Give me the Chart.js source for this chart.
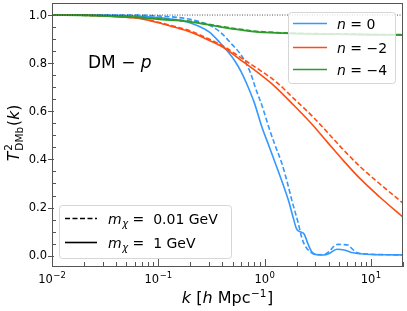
<!DOCTYPE html>
<html>
<head>
<meta charset="utf-8">
<script src="https://cdn.jsdelivr.net/npm/chart.js@4.4.1/dist/chart.umd.min.js"></script>
<style>
  html, body { margin: 0; padding: 0; background: #fff; }
  #wrap { width: 407px; height: 311px; }
</style>
</head>
<body>
<div id="wrap"><canvas id="chart" width="407" height="311"></canvas></div>
<script>
// k [h/Mpc] and T^2_DMb(k)
// n = 0
const kN0Heavy = [0.01, 0.03, 0.05, 0.1, 0.15, 0.2, 0.3, 0.38, 0.45, 0.53, 0.6, 0.7, 0.8, 0.94, 1.1, 1.26, 1.45, 1.67, 1.85, 2.0, 2.15, 2.35, 2.55, 2.78, 3.1, 3.6, 4.0, 4.8, 5.6, 6.8, 8, 10, 14, 20];
const tN0Heavy = [1, 1, 0.998, 0.99, 0.98, 0.967, 0.93, 0.885, 0.848, 0.806, 0.765, 0.70, 0.635, 0.536, 0.455, 0.384, 0.31, 0.231, 0.16, 0.11, 0.1, 0.09, 0.05, 0.015, 0.004, 0.003, 0.008, 0.027, 0.024, 0.012, 0.008, 0.005, 0.004, 0.003];
const kN0Light = [0.01, 0.05, 0.1, 0.2, 0.3, 0.38, 0.5, 0.58, 0.656, 0.74, 0.815, 0.95, 1.09, 1.25, 1.45, 1.62, 1.8, 2.07, 2.25, 2.45, 2.7, 3.0, 3.6, 4.1, 4.5, 4.9, 5.5, 6.1, 6.6, 7.2, 8.5, 10, 14, 20];
const tN0Light = [1, 1, 0.996, 0.982, 0.958, 0.93, 0.875, 0.843, 0.806, 0.757, 0.70, 0.62, 0.536, 0.46, 0.384, 0.31, 0.231, 0.135, 0.07, 0.035, 0.015, 0.005, 0.004, 0.02, 0.04, 0.047, 0.046, 0.044, 0.03, 0.015, 0.008, 0.006, 0.004, 0.003];
// n = -2
const kN2Heavy = [0.01, 0.02, 0.04, 0.07, 0.1, 0.14, 0.2, 0.3, 0.42, 0.6, 0.84, 1.2, 1.87, 2.8, 3.85, 5.5, 7.9, 12, 20];
const tN2Heavy = [1, 0.999, 0.993, 0.984, 0.968, 0.95, 0.93, 0.895, 0.862, 0.812, 0.765, 0.71, 0.626, 0.545, 0.474, 0.395, 0.32, 0.245, 0.16];
const kN2Light = [0.01, 0.02, 0.04, 0.07, 0.1, 0.14, 0.2, 0.3, 0.42, 0.6, 0.9, 1.3, 1.87, 2.8, 3.85, 5.5, 7.9, 12, 20];
const tN2Light = [1, 0.999, 0.994, 0.985, 0.97, 0.953, 0.934, 0.9, 0.868, 0.822, 0.771, 0.72, 0.654, 0.58, 0.515, 0.44, 0.37, 0.3, 0.218];
// n = -4
const kN4Heavy = [0.01, 0.02, 0.04, 0.07, 0.12, 0.2, 0.38, 0.6, 0.84, 1.3, 2, 3.5, 6, 10, 20];
const tN4Heavy = [1, 0.999, 0.995, 0.989, 0.98, 0.972, 0.951, 0.938, 0.93, 0.926, 0.923, 0.921, 0.92, 0.918, 0.917];
const kN4Light = [0.01, 0.02, 0.04, 0.07, 0.12, 0.2, 0.38, 0.6, 0.84, 1.3, 2, 3.5, 6, 10, 20];
const tN4Light = [1, 0.999, 0.996, 0.99, 0.982, 0.974, 0.953, 0.94, 0.932, 0.927, 0.924, 0.922, 0.921, 0.919, 0.918];
// T^2 = 1 reference
const kRef = [0.01, 20];
const tRef = [1, 1];

const yTicks = [0, 0.2, 0.4, 0.6, 0.8, 1.0];
const yTickLabels = ['0.0', '0.2', '0.4', '0.6', '0.8', '1.0'];
const xTickExps = [-2, -1, 0, 1];

const BLUE = '#3399ff', RED = '#ff4d12', GREEN = '#2e9b2e';
const FONT = "'DejaVu Sans', sans-serif";

const pts = (ks, ts) => ks.map((k, i) => ({ x: k, y: ts[i] }));

function line(label, ks, ts, color, dash, width) {
    return {
        label,
        data: pts(ks, ts),
        borderColor: color,
        borderWidth: width || 1.6,
        borderDash: dash || [],
        pointRadius: 0,
        fill: false,
        cubicInterpolationMode: 'monotone',
    };
}

// small helper to draw mixed italic / super / subscript text
function richText(ctx, parts, x, y, align) {
    const items = [];
    let cx = 0, prevStart = 0, prevW = 0;
    for (const p of parts) {
        ctx.font = p.font;
        const w = ctx.measureText(p.text).width;
        if (p.stack) {
            items.push({ p, x: prevStart });
            cx += Math.max(0, w - prevW);
            prevW = Math.max(prevW, w);
        } else {
            const sx = cx + (p.dx || 0);
            items.push({ p, x: sx });
            prevStart = sx; prevW = w;
            cx = sx + w;
        }
    }
    const x0 = align === 'center' ? x - cx / 2 : align === 'right' ? x - cx : x;
    ctx.textAlign = 'left';
    ctx.textBaseline = 'alphabetic';
    ctx.fillStyle = '#000';
    for (const it of items) {
        ctx.font = it.p.font;
        ctx.fillText(it.p.text, x0 + it.x, y + (it.p.dy || 0));
    }
}

const DASH = [5, 2.5];

const decorPlugin = {
    id: 'decor',
    beforeDraw(chart) {
        const ctx = chart.ctx;
        ctx.save();
        ctx.fillStyle = '#fff';
        ctx.fillRect(0, 0, chart.width, chart.height);
        ctx.restore();
    },
    afterDatasetsDraw(chart) {
        const { ctx, chartArea: a } = chart;
        const xs = chart.scales.x, ys = chart.scales.y;
        ctx.save();

        // frame
        ctx.strokeStyle = '#555';
        ctx.lineWidth = 1;
        ctx.strokeRect(a.left + 0.5, a.top + 0.5, a.right - a.left - 1, a.bottom - a.top - 1);

        // y ticks
        ctx.beginPath();
        for (let v = 0; v <= 1.0001; v += 0.05) {
            const y = Math.round(ys.getPixelForValue(v)) + 0.5;
            const major = Math.abs(v * 5 - Math.round(v * 5)) < 1e-6;
            if (major) { ctx.moveTo(a.left - 4, y); ctx.lineTo(a.left + 2, y); }
            else { ctx.moveTo(a.left, y); ctx.lineTo(a.left + 4, y); }
        }
        // x ticks
        for (let d = -2; d <= 1; d++) {
            for (let m = 1; m <= 9; m++) {
                const k = m * Math.pow(10, d);
                if (k > 20) continue;
                const x = Math.round(xs.getPixelForValue(k)) + 0.5;
                const len = m === 1 ? 8 : 5;
                ctx.moveTo(x, a.bottom); ctx.lineTo(x, a.bottom - len);
            }
        }
        ctx.stroke();

        // y tick labels
        ctx.fillStyle = '#000';
        ctx.font = '11.5px ' + FONT;
        ctx.textAlign = 'right';
        ctx.textBaseline = 'middle';
        yTicks.forEach((v, i) => ctx.fillText(yTickLabels[i], a.left - 5, ys.getPixelForValue(v) + 0.5));

        // x tick labels 10^n
        xTickExps.forEach(e => {
            const x = xs.getPixelForValue(Math.pow(10, e));
            richText(ctx, [
                { text: '10', font: '11.5px ' + FONT },
                { text: (e < 0 ? '\u2212' : '') + Math.abs(e), font: '8.5px ' + FONT, dy: -5, dx: 0.5 },
            ], x, 283, 'center');
        });

        // axis titles
        richText(ctx, [
            { text: 'k', font: 'italic 16px ' + FONT },
            { text: ' [', font: '16px ' + FONT },
            { text: 'h', font: 'italic 16px ' + FONT },
            { text: ' Mpc', font: '16px ' + FONT },
            { text: '\u22121', font: '10.5px ' + FONT, dy: -6.5, dx: 0.5 },
            { text: ']', font: '16px ' + FONT, dx: 0.5 },
        ], (a.left + a.right) / 2, 303, 'center');

        ctx.save();
        ctx.translate(19, 133);
        ctx.rotate(-Math.PI / 2);
        richText(ctx, [
            { text: 'T', font: 'italic 15.5px ' + FONT },
            { text: '2', font: '10.5px ' + FONT, dy: -7, dx: 1 },
            { text: 'DMb', font: '10.5px ' + FONT, dy: 3.5, stack: true },
            { text: '(', font: '15.5px ' + FONT, dx: 1 },
            { text: 'k', font: 'italic 15.5px ' + FONT },
            { text: ')', font: '15.5px ' + FONT },
        ], 0, 0, 'center');
        ctx.restore();

        // panel text
        richText(ctx, [
            { text: 'DM \u2212 ', font: '17px ' + FONT },
            { text: 'p', font: 'italic 17px ' + FONT },
        ], 88, 68, 'left');

        // legends
        const box = (x, y, w, h) => {
            ctx.beginPath();
            ctx.roundRect(x + 0.5, y + 0.5, w, h, 3);
            ctx.fillStyle = 'rgba(255,255,255,0.8)';
            ctx.fill();
            ctx.strokeStyle = '#d6d6d6';
            ctx.lineWidth = 1;
            ctx.stroke();
        };
        const sample = (x1, x2, y, color, dashed) => {
            ctx.beginPath();
            ctx.strokeStyle = color;
            ctx.lineWidth = 1.6;
            ctx.setLineDash(dashed ? DASH : []);
            ctx.moveTo(x1, y); ctx.lineTo(x2, y);
            ctx.stroke();
            ctx.setLineDash([]);
        };

        box(288, 12, 107, 71);
        [['0', BLUE, 23.5], ['\u22122', RED, 47.5], ['\u22124', GREEN, 69.5]].forEach(([n, c, y]) => {
            sample(293, 327, y, c, false);
            richText(ctx, [
                { text: 'n', font: 'italic 14px ' + FONT },
                { text: ' = ' + n, font: '14px ' + FONT },
            ], 337, y + 5, 'left');
        });

        box(59, 205, 172, 53);
        [['0.01 GeV', true, 218.5], ['1 GeV', false, 242.5]].forEach(([m, dashed, y]) => {
            sample(65, 97, y, '#000', dashed);
            richText(ctx, [
                { text: 'm', font: 'italic 14px ' + FONT },
                { text: '\u03c7', font: 'italic 10px ' + FONT, dy: 3, dx: 0.5 },
                { text: ' =  ' + m, font: '14px ' + FONT },
            ], 108, y + 5, 'left');
        });

        ctx.restore();
    },
};

new Chart(document.getElementById('chart'), {
    type: 'line',
    data: {
        datasets: [
            line('ref', kRef, tRef, '#222', [1, 1.5], 0.8),
            line('n=-4 light', kN4Light, tN4Light, GREEN, DASH, 1.8),
            line('n=-4 heavy', kN4Heavy, tN4Heavy, GREEN, null, 1.8),
            line('n=-2 light', kN2Light, tN2Light, RED, DASH),
            line('n=-2 heavy', kN2Heavy, tN2Heavy, RED),
            line('n=0 light', kN0Light, tN0Light, BLUE, DASH),
            line('n=0 heavy', kN0Heavy, tN0Heavy, BLUE),
        ],
    },
    options: {
        responsive: false,
        animation: false,
        layout: { padding: { left: 52, right: 4, top: 3, bottom: 44 } },
        plugins: { legend: { display: false }, tooltip: { enabled: false } },
        scales: {
            x: { type: 'logarithmic', min: 0.01, max: 20, display: false },
            y: { type: 'linear', min: -0.047, max: 1.05, display: false },
        },
    },
    plugins: [decorPlugin],
});
</script>
</body>
</html>
